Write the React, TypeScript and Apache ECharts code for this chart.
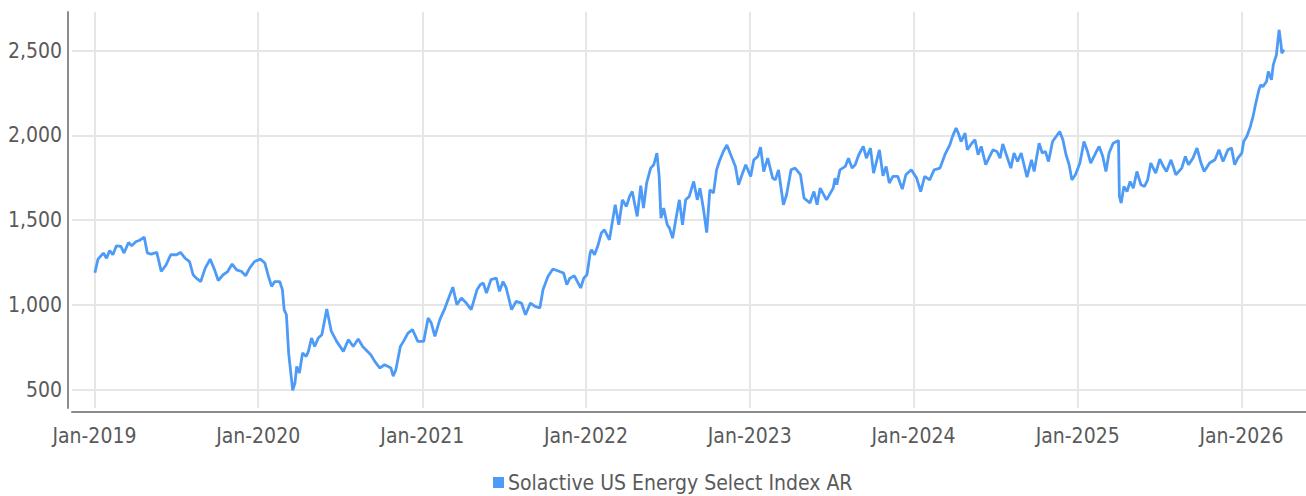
import React, { useEffect, useRef } from "react";
import * as echarts from "echarts";

const seriesName = "Solactive US Energy Select Index AR";

const y2019: [string, number][] = [
  ["2019-01-02", 1190], ["2019-01-09", 1270], ["2019-01-21", 1306], ["2019-01-28", 1276],
  ["2019-02-04", 1321], ["2019-02-11", 1296], ["2019-02-19", 1349], ["2019-03-01", 1345],
  ["2019-03-08", 1306], ["2019-03-18", 1368], ["2019-03-25", 1349], ["2019-04-04", 1374],
  ["2019-04-11", 1380], ["2019-04-22", 1400], ["2019-04-29", 1306], ["2019-05-08", 1300],
  ["2019-05-20", 1310], ["2019-05-30", 1197], ["2019-06-10", 1237], ["2019-06-20", 1296],
  ["2019-07-03", 1296], ["2019-07-12", 1310], ["2019-07-22", 1276], ["2019-08-01", 1256],
  ["2019-08-09", 1178], ["2019-08-16", 1158], ["2019-08-26", 1138], ["2019-09-05", 1217],
  ["2019-09-16", 1270], ["2019-09-26", 1207], ["2019-10-04", 1144], ["2019-10-15", 1178],
  ["2019-10-25", 1197], ["2019-11-04", 1241], ["2019-11-14", 1207], ["2019-11-25", 1197],
  ["2019-12-04", 1172], ["2019-12-13", 1217], ["2019-12-24", 1256],
];

const y2020: [string, number][] = [
  ["2020-01-06", 1270], ["2020-01-16", 1247], ["2020-01-24", 1168], ["2020-01-31", 1109],
  ["2020-02-07", 1138], ["2020-02-18", 1138], ["2020-02-24", 1090], ["2020-02-28", 972],
  ["2020-03-04", 942], ["2020-03-09", 716], ["2020-03-13", 618], ["2020-03-18", 496],
  ["2020-03-23", 539], ["2020-03-27", 637], ["2020-04-02", 598], ["2020-04-09", 716],
  ["2020-04-17", 696], ["2020-04-22", 726], ["2020-04-29", 805], ["2020-05-06", 755],
  ["2020-05-14", 805], ["2020-05-22", 824], ["2020-06-02", 976], ["2020-06-12", 845],
  ["2020-06-24", 785], ["2020-07-09", 726], ["2020-07-20", 795], ["2020-07-31", 755],
  ["2020-08-11", 799], ["2020-08-21", 755], ["2020-09-08", 706], ["2020-09-17", 667],
  ["2020-09-28", 628], ["2020-10-09", 647], ["2020-10-23", 628], ["2020-10-28", 580],
  ["2020-11-03", 618], ["2020-11-13", 755], ["2020-11-20", 785], ["2020-11-30", 834],
  ["2020-12-10", 854], ["2020-12-22", 785],
];

const y2021: [string, number][] = [
  ["2021-01-04", 785], ["2021-01-14", 923], ["2021-01-21", 893], ["2021-01-29", 814],
  ["2021-02-09", 913], ["2021-02-19", 972], ["2021-03-02", 1050], ["2021-03-10", 1105],
  ["2021-03-19", 1001], ["2021-03-29", 1041], ["2021-04-09", 1011], ["2021-04-20", 972],
  ["2021-05-03", 1090], ["2021-05-10", 1119], ["2021-05-17", 1129], ["2021-05-24", 1070],
  ["2021-06-03", 1149], ["2021-06-15", 1158], ["2021-06-22", 1080], ["2021-06-30", 1138],
  ["2021-07-07", 1100], ["2021-07-19", 972], ["2021-07-29", 1021], ["2021-08-10", 1011],
  ["2021-08-19", 942], ["2021-08-30", 1011], ["2021-09-09", 991], ["2021-09-20", 982],
  ["2021-09-27", 1090], ["2021-10-08", 1168], ["2021-10-19", 1212], ["2021-11-03", 1197],
  ["2021-11-12", 1188], ["2021-11-19", 1119], ["2021-11-26", 1158], ["2021-12-06", 1172],
  ["2021-12-20", 1100], ["2021-12-27", 1158],
];

const y2022: [string, number][] = [
  ["2022-01-03", 1178], ["2022-01-06", 1230], ["2022-01-10", 1306], ["2022-01-13", 1325],
  ["2022-01-20", 1296], ["2022-01-28", 1355], ["2022-02-04", 1424], ["2022-02-11", 1443],
  ["2022-02-22", 1384], ["2022-03-07", 1591], ["2022-03-15", 1473], ["2022-03-23", 1620],
  ["2022-04-01", 1581], ["2022-04-08", 1640], ["2022-04-14", 1669], ["2022-04-25", 1522],
  ["2022-05-03", 1703], ["2022-05-09", 1571], ["2022-05-16", 1718], ["2022-05-25", 1807],
  ["2022-06-01", 1827], ["2022-06-08", 1896], ["2022-06-13", 1758], ["2022-06-17", 1512],
  ["2022-06-23", 1571], ["2022-07-01", 1473], ["2022-07-06", 1453], ["2022-07-13", 1394],
  ["2022-07-20", 1502], ["2022-07-28", 1620], ["2022-08-04", 1473], ["2022-08-11", 1620],
  ["2022-08-19", 1640], ["2022-08-29", 1728], ["2022-09-06", 1620], ["2022-09-12", 1689],
  ["2022-09-20", 1561], ["2022-09-27", 1427], ["2022-10-04", 1679], ["2022-10-12", 1660],
  ["2022-10-19", 1797], ["2022-10-25", 1846], ["2022-11-03", 1905], ["2022-11-11", 1944],
  ["2022-11-18", 1896], ["2022-11-30", 1817], ["2022-12-07", 1709], ["2022-12-16", 1778],
  ["2022-12-23", 1827],
];

const y2023: [string, number][] = [
  ["2023-01-03", 1758], ["2023-01-10", 1856], ["2023-01-19", 1876], ["2023-01-25", 1931],
  ["2023-02-01", 1787], ["2023-02-10", 1866], ["2023-02-21", 1748], ["2023-02-27", 1738],
  ["2023-03-06", 1797], ["2023-03-17", 1591], ["2023-03-24", 1650], ["2023-04-03", 1797],
  ["2023-04-12", 1807], ["2023-04-24", 1768], ["2023-05-02", 1630], ["2023-05-15", 1601],
  ["2023-05-24", 1669], ["2023-05-31", 1591], ["2023-06-07", 1689], ["2023-06-21", 1620],
  ["2023-07-06", 1689], ["2023-07-10", 1748], ["2023-07-14", 1709], ["2023-07-21", 1797],
  ["2023-08-02", 1817], ["2023-08-09", 1866], ["2023-08-17", 1807], ["2023-08-24", 1827],
  ["2023-09-01", 1886], ["2023-09-11", 1935], ["2023-09-18", 1866], ["2023-09-27", 1925],
  ["2023-10-04", 1778], ["2023-10-17", 1915], ["2023-10-25", 1762], ["2023-11-01", 1817],
  ["2023-11-08", 1719], ["2023-11-16", 1758], ["2023-11-27", 1758], ["2023-12-07", 1683],
  ["2023-12-15", 1768], ["2023-12-27", 1797],
];

const y2024: [string, number][] = [
  ["2024-01-08", 1748], ["2024-01-17", 1669], ["2024-01-26", 1758], ["2024-02-06", 1738],
  ["2024-02-16", 1797], ["2024-02-29", 1807], ["2024-03-11", 1886], ["2024-03-22", 1944],
  ["2024-03-28", 1994], ["2024-04-05", 2043], ["2024-04-10", 2013], ["2024-04-16", 1964],
  ["2024-04-25", 2013], ["2024-04-30", 1915], ["2024-05-10", 1954], ["2024-05-17", 1974],
  ["2024-05-24", 1886], ["2024-05-31", 1935], ["2024-06-10", 1827], ["2024-06-17", 1866],
  ["2024-06-26", 1915], ["2024-07-05", 1905], ["2024-07-12", 1866], ["2024-07-18", 1950],
  ["2024-07-26", 1886], ["2024-08-05", 1807], ["2024-08-12", 1896], ["2024-08-20", 1846],
  ["2024-08-28", 1896], ["2024-09-10", 1754], ["2024-09-20", 1856], ["2024-09-26", 1787],
  ["2024-10-07", 1954], ["2024-10-14", 1896], ["2024-10-21", 1905], ["2024-10-28", 1846],
  ["2024-11-06", 1964], ["2024-11-22", 2023], ["2024-11-29", 1974], ["2024-12-06", 1886],
  ["2024-12-13", 1827], ["2024-12-19", 1738], ["2024-12-27", 1768],
];

const y2025: [string, number][] = [
  ["2025-01-06", 1837], ["2025-01-15", 1964], ["2025-01-23", 1905], ["2025-01-30", 1837],
  ["2025-02-10", 1896], ["2025-02-18", 1935], ["2025-02-26", 1876], ["2025-03-05", 1787],
  ["2025-03-12", 1896], ["2025-03-21", 1954], ["2025-04-02", 1970], ["2025-04-04", 1640],
  ["2025-04-08", 1601], ["2025-04-14", 1699], ["2025-04-21", 1669], ["2025-04-28", 1728],
  ["2025-05-05", 1689], ["2025-05-13", 1787], ["2025-05-22", 1709], ["2025-05-30", 1699],
  ["2025-06-06", 1738], ["2025-06-13", 1837], ["2025-06-24", 1778], ["2025-07-03", 1860],
  ["2025-07-11", 1817], ["2025-07-18", 1787], ["2025-07-28", 1856], ["2025-08-08", 1768],
  ["2025-08-21", 1807], ["2025-08-29", 1876], ["2025-09-05", 1827], ["2025-09-15", 1866],
  ["2025-09-24", 1925], ["2025-10-03", 1837], ["2025-10-10", 1787], ["2025-10-22", 1837],
  ["2025-11-03", 1856], ["2025-11-12", 1915], ["2025-11-21", 1846], ["2025-12-02", 1915],
  ["2025-12-10", 1925], ["2025-12-17", 1827], ["2025-12-24", 1866],
];

const y2026: [string, number][] = [
  ["2026-01-02", 1896], ["2026-01-06", 1964], ["2026-01-13", 1994], ["2026-01-21", 2053],
  ["2026-01-27", 2112], ["2026-02-02", 2190], ["2026-02-09", 2269], ["2026-02-13", 2298],
  ["2026-02-18", 2288], ["2026-02-26", 2318], ["2026-03-02", 2377], ["2026-03-09", 2328],
  ["2026-03-13", 2416], ["2026-03-20", 2475], ["2026-03-26", 2623], ["2026-03-30", 2544],
  ["2026-04-01", 2485], ["2026-04-06", 2505],
];

const yearTicks = [2019, 2020, 2021, 2022, 2023, 2024, 2025, 2026];
const valueTicks = [500, 1000, 1500, 2000, 2500];

const FONT = "'Liberation Sans Narrow', 'DejaVu Sans Condensed', 'Roboto Condensed', sans-serif";
const TEXT = "#5a5a5a";

const toTime = (d: string) => {
  const [y, m, day] = d.split("-").map(Number);
  return new Date(y, m - 1, day).getTime();
};

export default function App() {
  const ref = useRef<HTMLDivElement>(null);

  useEffect(() => {
    document.body.style.margin = "0";
    if (!ref.current) return;
    const chart = echarts.init(ref.current, undefined, { renderer: "svg" });
    const data = [...y2019, ...y2020, ...y2021, ...y2022, ...y2023, ...y2024, ...y2025, ...y2026].map(
      ([d, v]) => [toTime(d), v]
    );
    const xTicks = yearTicks.map((y) => new Date(y, 0, 1).getTime());

    chart.setOption({
      animation: false,
      backgroundColor: "#ffffff",
      grid: { left: 72, right: 0, top: 12, bottom: 88, containLabel: false },
      legend: {
        data: [seriesName],
        left: 488,
        top: 467,
        icon: "rect",
        itemWidth: 11,
        itemHeight: 11,
        itemGap: 5,
        textStyle: { fontFamily: FONT, fontSize: 21, color: TEXT, padding: [0, 0, 0, -1] },
      },
      xAxis: {
        type: "value",
        min: new Date(2018, 10, 12).getTime(),
        max: new Date(2026, 4, 25).getTime(),
        offset: 4,
        axisLine: { show: true, lineStyle: { color: "#8c8c8c", width: 2 } },
        axisTick: { show: false, customValues: xTicks },
        axisLabel: {
          customValues: xTicks,
          formatter: (v: number) => "Jan-" + new Date(v).getFullYear(),
          fontFamily: FONT,
          fontSize: 21,
          color: TEXT,
          margin: 13,
        },
        splitLine: { show: true, lineStyle: { color: "#e6e6e6", width: 2 } },
      },
      yAxis: {
        type: "value",
        min: 392,
        max: 2728,
        offset: 4,
        axisLine: { show: true, lineStyle: { color: "#8c8c8c", width: 2 } },
        axisTick: { show: false, customValues: valueTicks },
        axisLabel: {
          customValues: valueTicks,
          formatter: (v: number) => v.toLocaleString("en-US"),
          fontFamily: FONT,
          fontSize: 21,
          color: TEXT,
          margin: 6,
        },
        splitLine: { show: true, lineStyle: { color: "#e6e6e6", width: 2 } },
      },
      series: [
        {
          name: seriesName,
          type: "line",
          data,
          showSymbol: false,
          symbol: "none",
          lineStyle: { color: "#4d9bf6", width: 2.8 },
          itemStyle: { color: "#4d9bf6" },
        },
      ],
    });
    return () => chart.dispose();
  }, []);

  return <div ref={ref} style={{ width: 1306, height: 496 }} />;
}
